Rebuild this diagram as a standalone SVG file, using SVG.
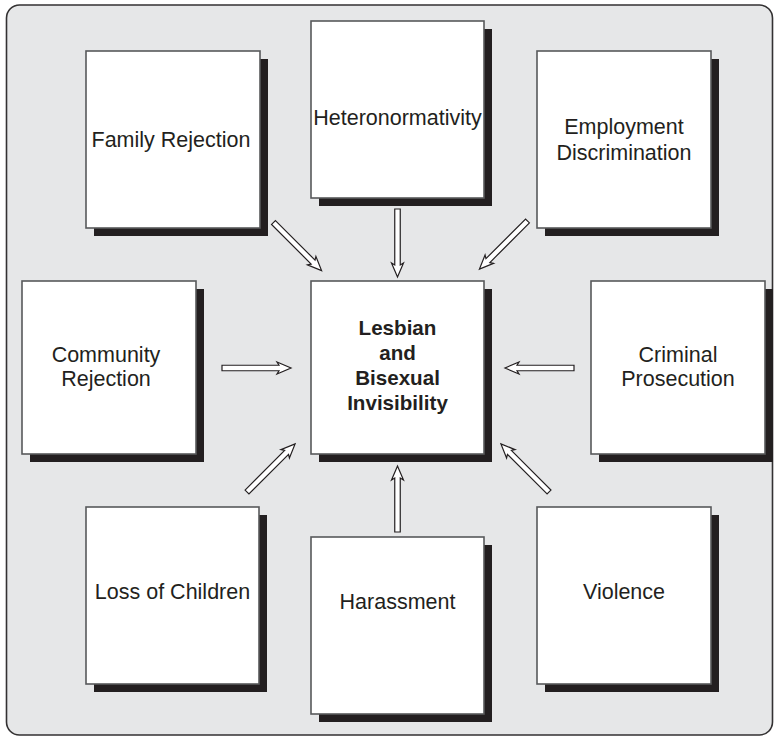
<svg xmlns="http://www.w3.org/2000/svg" width="779" height="737" viewBox="0 0 779 737">
<style>
.bg{fill:#e6e7e8;stroke:#333132;stroke-width:1.6}
.sh{fill:#231f20}
.bx{fill:#ffffff;stroke:#58595b;stroke-width:1.6}
.t{font-family:"Liberation Sans",Arial,sans-serif;font-size:21.5px;fill:#231f20;text-anchor:middle}
.tb{font-family:"Liberation Sans",Arial,sans-serif;font-size:20.6px;font-weight:bold;fill:#231f20;text-anchor:middle}
.ar{fill:#ffffff;stroke:#231f20;stroke-width:1.2;stroke-linejoin:miter}
</style>
<rect class="bg" x="6.5" y="5" width="766" height="730" rx="13"/>
<g id="family-rejection">
<rect class="sh" x="94" y="59" width="174" height="177"/>
<rect class="bx" x="86" y="51" width="174" height="177"/>
<text class="t" x="171" y="147">Family Rejection</text>
</g>
<g id="heteronormativity">
<rect class="sh" x="319" y="29" width="173" height="177"/>
<rect class="bx" x="311" y="21" width="173" height="177"/>
<text class="t" x="397.5" y="125">Heteronormativity</text>
</g>
<g id="employment-discrimination">
<rect class="sh" x="545" y="59" width="174" height="177"/>
<rect class="bx" x="537" y="51" width="174" height="177"/>
<text class="t" x="624" y="134">Employment</text>
<text class="t" x="624" y="160">Discrimination</text>
</g>
<g id="community-rejection">
<rect class="sh" x="30" y="289" width="174" height="173"/>
<rect class="bx" x="22" y="281" width="174" height="173"/>
<text class="t" x="106" y="362">Community</text>
<text class="t" x="106" y="386">Rejection</text>
</g>
<g id="center">
<rect class="sh" x="319" y="289" width="173" height="173"/>
<rect class="bx" x="311" y="281" width="173" height="173"/>
<text class="tb" x="397.5" y="335">Lesbian</text>
<text class="tb" x="397.5" y="360">and</text>
<text class="tb" x="397.5" y="385">Bisexual</text>
<text class="tb" x="397.5" y="410">Invisibility</text>
</g>
<g id="criminal-prosecution">
<rect class="sh" x="599" y="289" width="174" height="173"/>
<rect class="bx" x="591" y="281" width="174" height="173"/>
<text class="t" x="678" y="362">Criminal</text>
<text class="t" x="678" y="386">Prosecution</text>
</g>
<g id="loss-of-children">
<rect class="sh" x="94" y="515" width="173" height="177"/>
<rect class="bx" x="86" y="507" width="173" height="177"/>
<text class="t" x="172.5" y="599">Loss of Children</text>
</g>
<g id="harassment">
<rect class="sh" x="319" y="545" width="173" height="177"/>
<rect class="bx" x="311" y="537" width="173" height="177"/>
<text class="t" x="397.5" y="609">Harassment</text>
</g>
<g id="violence">
<rect class="sh" x="545" y="515" width="174" height="177"/>
<rect class="bx" x="537" y="507" width="174" height="177"/>
<text class="t" x="624" y="599">Violence</text>
</g>
<g id="connectors">
<polygon class="ar" transform="translate(397.5,209) rotate(90)" points="0,-2.75 56,-2.75 54,-6 68,0 54,6 56,2.75 0,2.75"/>
<polygon class="ar" transform="translate(273.5,222.5) rotate(45)" points="0,-2.75 56,-2.75 54,-6 68,0 54,6 56,2.75 0,2.75"/>
<polygon class="ar" transform="translate(527.5,221) rotate(135)" points="0,-2.75 56,-2.75 54,-6 68,0 54,6 56,2.75 0,2.75"/>
<polygon class="ar" transform="translate(222,368) rotate(0)" points="0,-2.75 57,-2.75 55,-6 69,0 55,6 57,2.75 0,2.75"/>
<polygon class="ar" transform="translate(574,368) rotate(180)" points="0,-2.75 57,-2.75 55,-6 69,0 55,6 57,2.75 0,2.75"/>
<polygon class="ar" transform="translate(247,492) rotate(-45)" points="0,-2.75 56,-2.75 54,-6 68,0 54,6 56,2.75 0,2.75"/>
<polygon class="ar" transform="translate(549,492) rotate(-135)" points="0,-2.75 56,-2.75 54,-6 68,0 54,6 56,2.75 0,2.75"/>
<polygon class="ar" transform="translate(397.5,532) rotate(-90)" points="0,-2.75 54,-2.75 52,-6 66,0 52,6 54,2.75 0,2.75"/>
</g>
</svg>
